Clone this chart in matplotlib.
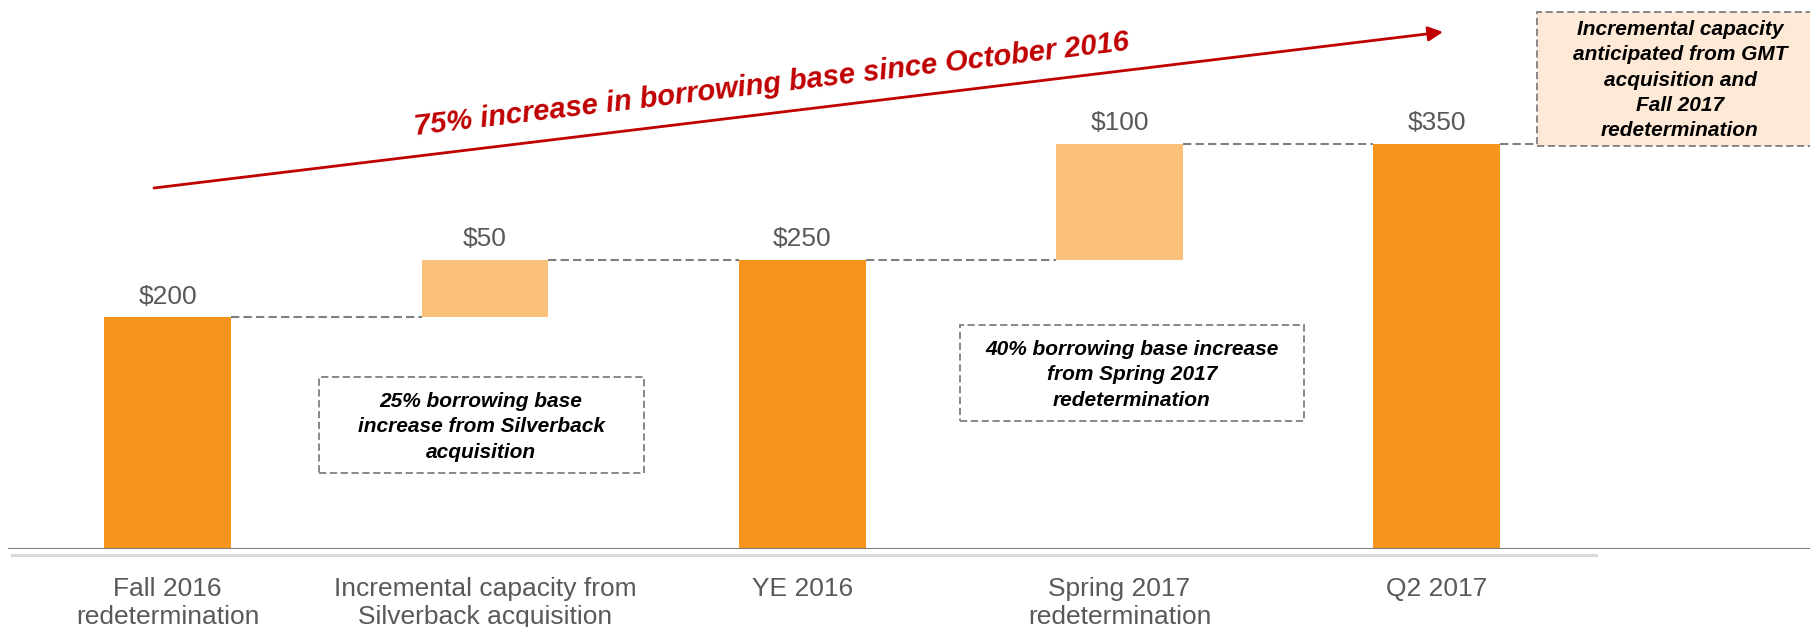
import matplotlib
matplotlib.use("Agg")
import matplotlib.pyplot as plt
from matplotlib.patches import Rectangle
from matplotlib.lines import Line2D

plt.rcParams['font.family'] = ['Liberation Sans', 'DejaVu Sans']

# data
categories = ["Fall 2016\nredetermination",
              "Incremental capacity from\nSilverback acquisition",
              "YE 2016",
              "Spring 2017\nredetermination",
              "Q2 2017"]
values = [200, 50, 250, 100, 350]
is_total = [True, False, True, False, True]
value_labels = ["$200", "$50", "$250", "$100", "$350"]
headline = "75% increase in borrowing base since October 2016"
note_silverback = "25% borrowing base\nincrease from Silverback\nacquisition"
note_spring = "40% borrowing base increase\nfrom Spring 2017\nredetermination"
note_gmt = "Incremental capacity\nanticipated from GMT\nacquisition and\nFall 2017\nredetermination"

W, H = 1810, 627
DARK = '#F7941D'
LIGHT = '#FABF78'
PEACH = '#FDE9D6'
RED = '#C00000'
GRAY_TXT = '#595959'
DASH = '#7F7F7F'


def fp(x, y):
    # pixel position (from top left) -> figure fraction
    return x / W, 1 - y / H


def dashed_box(x0, y0, x1, y1, face):
    (fx0, fy1), (fx1, fy0) = fp(x0, y0), fp(x1, y1)
    r = Rectangle((fx0, fy0), fx1 - fx0, fy1 - fy0, transform=fig.transFigure,
                  facecolor=face, edgecolor=DASH, lw=1.3, ls=(0, (4, 2)), zorder=1)
    fig.add_artist(r)


fig = plt.figure(figsize=(W / 100, H / 100), dpi=100)
base_px = 549
ax = fig.add_axes([0, (H - base_px) / H, 1, base_px / H])
unit = 1.158   # px per $mm
step, x0 = 317.3, 167.7
ax.set_ylim(0, base_px / unit)
ax.set_xlim(-x0 / step, (W - x0) / step)
for s in ax.spines.values():
    s.set_visible(False)
ax.set_yticks([])

# waterfall bottoms
bottoms, running = [], 0
for v, t in zip(values, is_total):
    if t:
        bottoms.append(0)
        running = v
    else:
        bottoms.append(running)
        running += v
tops = [b + v for b, v in zip(bottoms, values)]
xs = list(range(len(values)))
colors = [DARK if t else LIGHT for t in is_total]
bw = 0.4
ax.bar(xs, values, bottom=bottoms, width=bw, color=colors, zorder=2)

for i, (top, lab) in enumerate(zip(tops, value_labels)):
    ax.annotate(lab, (i, top), xytext=(0, 6), textcoords='offset points',
                ha='center', va='bottom', fontsize=19, color=GRAY_TXT)

# connectors
for i in range(len(values) - 1):
    ax.hlines(tops[i], i + bw / 2, i + 1 - bw / 2, colors=DASH, lw=1.5,
              linestyles=(0, (4, 2)), zorder=3)
ax.hlines(tops[-1], xs[-1] + bw / 2, ax.get_xlim()[1], colors=DASH, lw=1.5,
          linestyles=(0, (4, 2)), zorder=3)

# baseline
ax.axhline(0, xmin=9 / W, color='#7F7F7F', lw=2.2, zorder=4)
fig.add_artist(Line2D([12 / W, 1596 / W], [1 - 554.5 / H] * 2, color='#D9D9D9', lw=2.2))

ax.set_xticks(xs, categories)
ax.tick_params(axis='x', length=0, pad=20, labelsize=19, labelcolor=GRAY_TXT)
for lbl in ax.get_xticklabels():
    lbl.set_linespacing(1.2)

# headline arrow
ax.annotate('', xy=fp(1443, 32), xytext=fp(154, 188), xycoords='figure fraction',
            textcoords='figure fraction',
            arrowprops=dict(arrowstyle='-|>', color=RED, lw=2, mutation_scale=22,
                            shrinkA=0, shrinkB=0))
fig.text(*fp(773, 92.5), headline, rotation=6.8, rotation_mode='anchor', ha='center',
         va='baseline', fontsize=21, weight='bold', style='italic', color=RED)

# notes
dashed_box(319, 377, 644, 473, 'white')
fig.text(*fp(481, 427), note_silverback, ha='center', va='center', fontsize=15,
         weight='bold', style='italic', color='black', linespacing=1.42)
dashed_box(960, 325, 1304, 421, 'white')
fig.text(*fp(1132, 375), note_spring, ha='center', va='center', fontsize=15,
         weight='bold', style='italic', color='black', linespacing=1.42)
dashed_box(1537, 12, 1830, 146, PEACH)
fig.text(*fp(1680, 80), note_gmt, ha='center', va='center', fontsize=15,
         weight='bold', style='italic', color='black', linespacing=1.42)

fig.savefig('out.png', dpi=100)
